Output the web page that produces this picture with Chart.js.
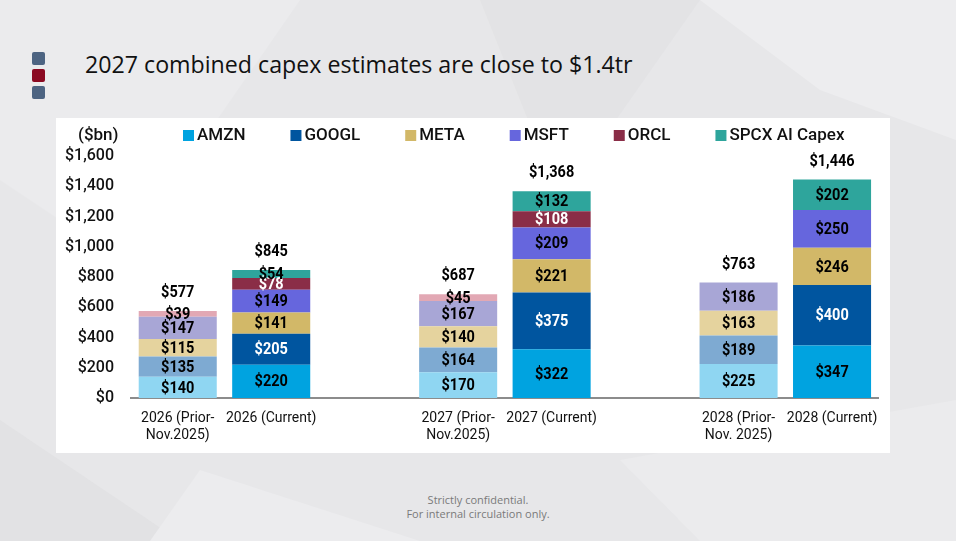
<!DOCTYPE html>
<html>
<head>
<meta charset="utf-8">
<script src="https://cdn.jsdelivr.net/npm/chart.js@4.4.1/dist/chart.umd.min.js"></script>
<style>
  html, body { margin: 0; padding: 0; }
  body {
    width: 956px; height: 541px; overflow: hidden; position: relative;
    background: #e7e7e9; font-family: "Open Sans", sans-serif;
  }
  #bg { position: absolute; left: 0; top: 0; }
  .sq { position: absolute; left: 32px; width: 13px; height: 13px; border-radius: 2px; }
  #title { position: absolute; left: 85px; top: 48px; font-size: 23.2px; color: #111; white-space: nowrap; }
  #box { position: absolute; left: 56px; top: 118px; width: 834px; height: 335px; background: #fff; }
  #foot { position: absolute; left: 0; width: 956px; top: 493px; text-align: center;
          font-size: 11px; line-height: 14px; color: #7a7a7a; }
</style>
</head>
<body>
<svg id="bg" width="956" height="541">
  <polygon points="0,0 300,0 120,260 0,180" fill="#ebebed"/>
  <polygon points="700,0 956,0 956,140 820,90" fill="#ededef"/>
  <polygon points="480,0 700,0 560,200" fill="#e3e3e5"/>
  <polygon points="0,420 180,541 0,541" fill="#e2e2e4"/>
  <polygon points="620,460 956,400 956,541 700,541" fill="#ebebed"/>
  <polygon points="200,470 420,541 150,541" fill="#ececee"/>
</svg>
<div class="sq" style="top:52px;background:#4d6482"></div>
<div class="sq" style="top:69px;background:#8b0a22"></div>
<div class="sq" style="top:86px;background:#4d6482"></div>
<div id="title">2027 combined capex estimates are close to $1.4tr</div>
<div id="box"><canvas id="c" width="834" height="335"></canvas></div>
<div id="foot">Strictly confidential.<br>For internal circulation only.</div>

<script>
// bars are paired (prior estimate / current), empty slots keep the gaps between years
const categories = [
  ["2026 (Prior-", "Nov.2025)"], "2026 (Current)", "",
  ["2027 (Prior-", "Nov.2025)"], "2027 (Current)", "",
  ["2028 (Prior-", "Nov. 2025)"], "2028 (Current)"
];
const isPrior = [true, false, false, true, false, false, true, false];

const amzn  = [140, 220, null, 170, 322, null, 225, 347];
const googl = [135, 205, null, 164, 375, null, 189, 400];
const meta  = [115, 141, null, 140, 221, null, 163, 246];
const msft  = [147, 149, null, 167, 209, null, 186, 250];
const orcl  = [39,   78, null,  45, 108, null, null, null];
const spcx  = [null, 54, null, null, 132, null, null, 202];
const totals = [577, 845, null, 687, 1368, null, 763, 1446];

const yTicks = [0, 200, 400, 600, 800, 1000, 1200, 1400, 1600];

const series = [
  { label: "AMZN",          data: amzn,  dark: "#00a3e0", light: "#8fd6f2", txt: "#000" },
  { label: "GOOGL",         data: googl, dark: "#00559f", light: "#7eaad2", txt: "#fff" },
  { label: "META",          data: meta,  dark: "#d2b868", light: "#e5d39e", txt: "#000" },
  { label: "MSFT",          data: msft,  dark: "#6666dd", light: "#a8a6d6", txt: "#000" },
  { label: "ORCL",          data: orcl,  dark: "#8a2d47", light: "#e2a8b4", txt: "#fff" },
  { label: "SPCX AI Capex", data: spcx,  dark: "#2ea59c", light: "#8fd0ca", txt: "#000" }
];

const fmt = v => "$" + v.toLocaleString("en-US");

// value labels inside segments, totals on top, plus a hand-laid legend
const labelPlugin = {
  id: "labels",
  afterDatasetsDraw(chart) {
    const ctx = chart.ctx;
    ctx.save();
    ctx.textAlign = "center";
    ctx.textBaseline = "middle";
    ctx.font = "bold 16.5px Roboto";
    const tops = [];
    chart.data.datasets.forEach((ds, di) => {
      const m = chart.getDatasetMeta(di);
      m.data.forEach((el, i) => {
        const v = ds.data[i];
        if (v == null) return;
        const cy = (el.y + el.base) / 2;
        ctx.fillStyle = isPrior[i] ? "#000" : series[di].txt;
        ctx.save();
        ctx.translate(el.x, cy + 1);
        ctx.scale(0.88, 1);
        ctx.fillText(fmt(v), 0, 0);
        ctx.restore();
        if (tops[i] == null || el.y < tops[i].y) tops[i] = { x: el.x, y: el.y };
      });
    });
    ctx.fillStyle = "#000";
    totals.forEach((t, i) => {
      if (t == null || !tops[i]) return;
      ctx.save();
      ctx.translate(tops[i].x, tops[i].y - 18);
      ctx.scale(0.88, 1);
      ctx.fillText(fmt(t), 0, 0);
      ctx.restore();
    });
    ctx.restore();
  },
  afterDraw(chart) {
    const ctx = chart.ctx;
    ctx.save();
    ctx.textBaseline = "middle";
    ctx.font = "500 17px Roboto";
    ctx.fillStyle = "#111";
    ctx.textAlign = "left";
    ctx.fillText("($bn)", 22, 18);
    let x = 127;
    series.forEach(s => {
      ctx.fillStyle = s.dark;
      ctx.fillRect(x, 12, 11, 11);
      ctx.fillStyle = "#111";
      ctx.fillText(s.label, x + 14, 18);
      x += 14 + ctx.measureText(s.label).width + 45;
    });
    ctx.restore();
  }
};

new Chart(document.getElementById("c"), {
  type: "bar",
  data: {
    labels: categories,
    datasets: series.map(s => ({
      label: s.label,
      data: s.data,
      stack: "capex",
      backgroundColor: isPrior.map(p => p ? s.light : s.dark),
      borderWidth: 0,
      categoryPercentage: 1,
      barPercentage: 0.835
    }))
  },
  options: {
    responsive: false,
    animation: false,
    layout: { padding: { left: 9, right: 11, top: 38, bottom: 0 } },
    plugins: { legend: { display: false }, tooltip: { enabled: false } },
    scales: {
      x: {
        stacked: true,
        grid: { display: false, drawTicks: false },
        border: { color: "#8c8c8c", width: 2 },
        ticks: { color: "#111", font: { family: "Roboto", size: 14 }, padding: 12, maxRotation: 0, autoSkip: false },
        afterFit: s => { s.height = 55; }
      },
      y: {
        stacked: true,
        min: 0, max: 1600,
        afterBuildTicks: s => { s.ticks = yTicks.map(v => ({ value: v })); },
        grid: { display: false, drawTicks: false },
        border: { display: false },
        ticks: { color: "#111", font: { family: "Roboto", size: 16, weight: "500" }, padding: 17, callback: v => fmt(v) },
        afterFit: s => { s.width = 66; }
      }
    }
  },
  plugins: [labelPlugin]
});
</script>
</body>
</html>
